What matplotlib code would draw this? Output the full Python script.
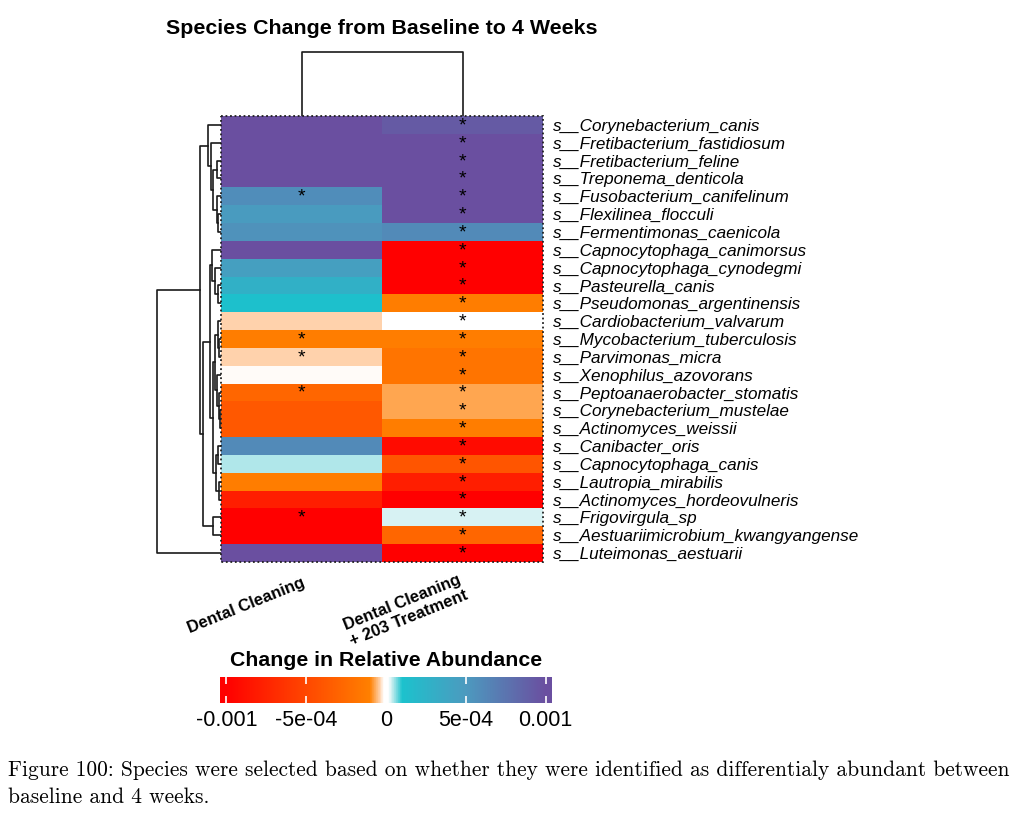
import matplotlib
matplotlib.use('Agg')
import matplotlib.pyplot as plt
import numpy as np
from matplotlib.colors import LinearSegmentedColormap, Normalize
from matplotlib.cm import ScalarMappable
from matplotlib.patches import Rectangle

plt.rcParams['font.family'] = ['Liberation Sans', 'DejaVu Sans']

species = ['s__Corynebacterium_canis', 's__Fretibacterium_fastidiosum', 's__Fretibacterium_feline',
           's__Treponema_denticola', 's__Fusobacterium_canifelinum', 's__Flexilinea_flocculi',
           's__Fermentimonas_caenicola', 's__Capnocytophaga_canimorsus', 's__Capnocytophaga_cynodegmi',
           's__Pasteurella_canis', 's__Pseudomonas_argentinensis', 's__Cardiobacterium_valvarum',
           's__Mycobacterium_tuberculosis', 's__Parvimonas_micra', 's__Xenophilus_azovorans',
           's__Peptoanaerobacter_stomatis', 's__Corynebacterium_mustelae', 's__Actinomyces_weissii',
           's__Canibacter_oris', 's__Capnocytophaga_canis', 's__Lautropia_mirabilis',
           's__Actinomyces_hordeovulneris', 's__Frigovirgula_sp', 's__Aestuariimicrobium_kwangyangense',
           's__Luteimonas_aestuarii']
conditions = ['Dental Cleaning', 'Dental Cleaning\n+ 203 Treatment']

# change in relative abundance
dc = [0.00104, 0.00104, 0.00104, 0.00104, 0.00058, 0.00048, 0.00055, 0.00104, 0.00045, 0.00028,
      0.00011, -0.00004, -0.00012, -0.00004, -0.000015, -0.00028, -0.00038, -0.00038, 0.0006,
      0.000045, -0.00012, -0.00078, -0.00104, -0.00104, 0.00104]
dc203 = [0.00092, 0.00104, 0.00104, 0.00104, 0.00104, 0.00104, 0.0006, -0.00104, -0.00104, -0.00104,
         -0.00012, -0.000012, -0.00012, -0.00018, -0.00018, -0.00007, -0.00007, -0.00012, -0.00092,
         -0.0004, -0.00078, -0.00104, 0.00003, -0.00028, -0.00104]
star_dc = [0, 0, 0, 0, 1, 0, 0, 0, 0, 0, 0, 0, 1, 1, 0, 1, 0, 0, 0, 0, 0, 0, 1, 0, 0]
star_dc203 = [1] * 25

# row clustering: (height, left, right), leaves are row indices
row_tree = (64, (21, (13, 0, (10, 1, (8, (4, 2, 3), (4, 4, (3, 5, 6))))),
                 (18, (11, (9, 7, (6, 8, (3, 9, 10))),
                       (8, (6, (3, 11, (2, 12, 13)), (4, 14, (2.5, 15, (1.5, 16, 17)))),
                        (5, (3, 18, 19), (2, 20, 21)))),
                  (8, 22, 23))),
            24)

cbar_ticks = [-0.001, -0.0005, 0, 0.0005, 0.001]
cbar_labels = ['-0.001', '-5e-04', '0', '5e-04', '0.001']

vmin, vmax = -0.00104, 0.00104
cmap_vals = [-0.00104, -0.001, -0.0001, -0.00004, -0.000012, 0.000012, 0.00004, 0.0001, 0.0005, 0.001, 0.00104]
cmap_cols = ['#FF0000', '#FF0000', '#FF8000', '#FFD0A8', '#FFFFFF', '#FFFFFF', '#C4ECEE', '#1CC2CD',
             '#4C9ABF', '#6A4FA0', '#6A4FA0']
cmap = LinearSegmentedColormap.from_list(
    'abund', [((v - vmin) / (vmax - vmin), c) for v, c in zip(cmap_vals, cmap_cols)], N=512)

fig = plt.figure(figsize=(10.24, 8.14), dpi=100)
W, H = 1024, 814


def box(x0, y0, x1, y1):
    return [x0 / W, 1 - y1 / H, (x1 - x0) / W, (y1 - y0) / H]


values = np.array([dc, dc203]).T
stars = np.array([star_dc, star_dc203]).T
n = len(species)

ax = fig.add_axes(box(221, 116, 543, 562))
ax.imshow(values, cmap=cmap, vmin=vmin, vmax=vmax, aspect='auto', interpolation='nearest')
for i in range(n):
    for j in range(2):
        if stars[i, j]:
            ax.text(j, i + 0.05, '*', ha='center', va='center', fontsize=14, color='black')
ax.add_patch(Rectangle((-0.5, -0.5), 2, n, fill=False, ls=(0, (1, 1.5)), lw=1.3, color='#222222',
                       clip_on=False))
ax.set_xlim(-0.5, 1.5)
ax.set_ylim(n - 0.5, -0.5)
ax.yaxis.tick_right()
ax.set_yticks(range(n))
ax.set_yticklabels(species, fontstyle='italic', fontsize=12.3)
ax.tick_params(axis='y', length=0, pad=7)
ax.set_xticks([])
for s in ax.spines.values():
    s.set_visible(False)

label_x = [0.0, -0.03]
label_y = [n + 0.25, n + 0.05]
for j, lab in enumerate(conditions):
    ax.text(j + label_x[j], label_y[j], lab, rotation=22, rotation_mode='anchor', ha='right', va='top',
            ma='center', fontsize=12, fontweight='bold')

# row dendrogram
axr = fig.add_axes(box(155, 116, 221, 562))


def draw_tree(a, node):
    if isinstance(node, int):
        return node, 0.0
    h, left, right = node
    yl, hl = draw_tree(a, left)
    yr, hr = draw_tree(a, right)
    a.plot([hl, h, h, hr], [yl, yl, yr, yr], color='#1a1a1a', lw=1.2)
    return (yl + yr) / 2, h


draw_tree(axr, row_tree)
axr.set_xlim(66, 0)
axr.set_ylim(n - 0.5, -0.5)
axr.axis('off')

# column dendrogram
axc = fig.add_axes(box(221, 48, 543, 116))
axc.plot([0, 0, 1, 1], [0, 1, 1, 0], color='#1a1a1a', lw=1.2)
axc.set_xlim(-0.5, 1.5)
axc.set_ylim(0, 1.06)
axc.axis('off')

fig.text(382 / W, 1 - 28 / H, 'Species Change from Baseline to 4 Weeks', ha='center', va='center',
         fontsize=15.4, fontweight='bold')

# colour bar
cax = fig.add_axes(box(220, 677, 552, 703))
cb = fig.colorbar(ScalarMappable(norm=Normalize(vmin, vmax), cmap=cmap), cax=cax, orientation='horizontal')
cb.outline.set_visible(False)
cb.set_ticks(cbar_ticks)
cb.set_ticklabels(cbar_labels)
cax.tick_params(direction='in', color='white', length=5, width=1.2, top=True, bottom=True,
                labelsize=15.5, pad=5)
fig.text(386 / W, 1 - 660 / H, 'Change in Relative Abundance', ha='center', va='center',
         fontsize=15.3, fontweight='bold')

fig.text(8 / W, 1 - 770 / H,
         'Figure 100: Species were selected based on whether they were identified as differentialy abundant between',
         ha='left', va='center', fontsize=15.45, family=['cmr10', 'DejaVu Serif'])
fig.text(8 / W, 1 - 797 / H, 'baseline and 4 weeks.', ha='left', va='center', fontsize=15.45,
         family=['cmr10', 'DejaVu Serif'])

fig.savefig('out.png', dpi=100)
